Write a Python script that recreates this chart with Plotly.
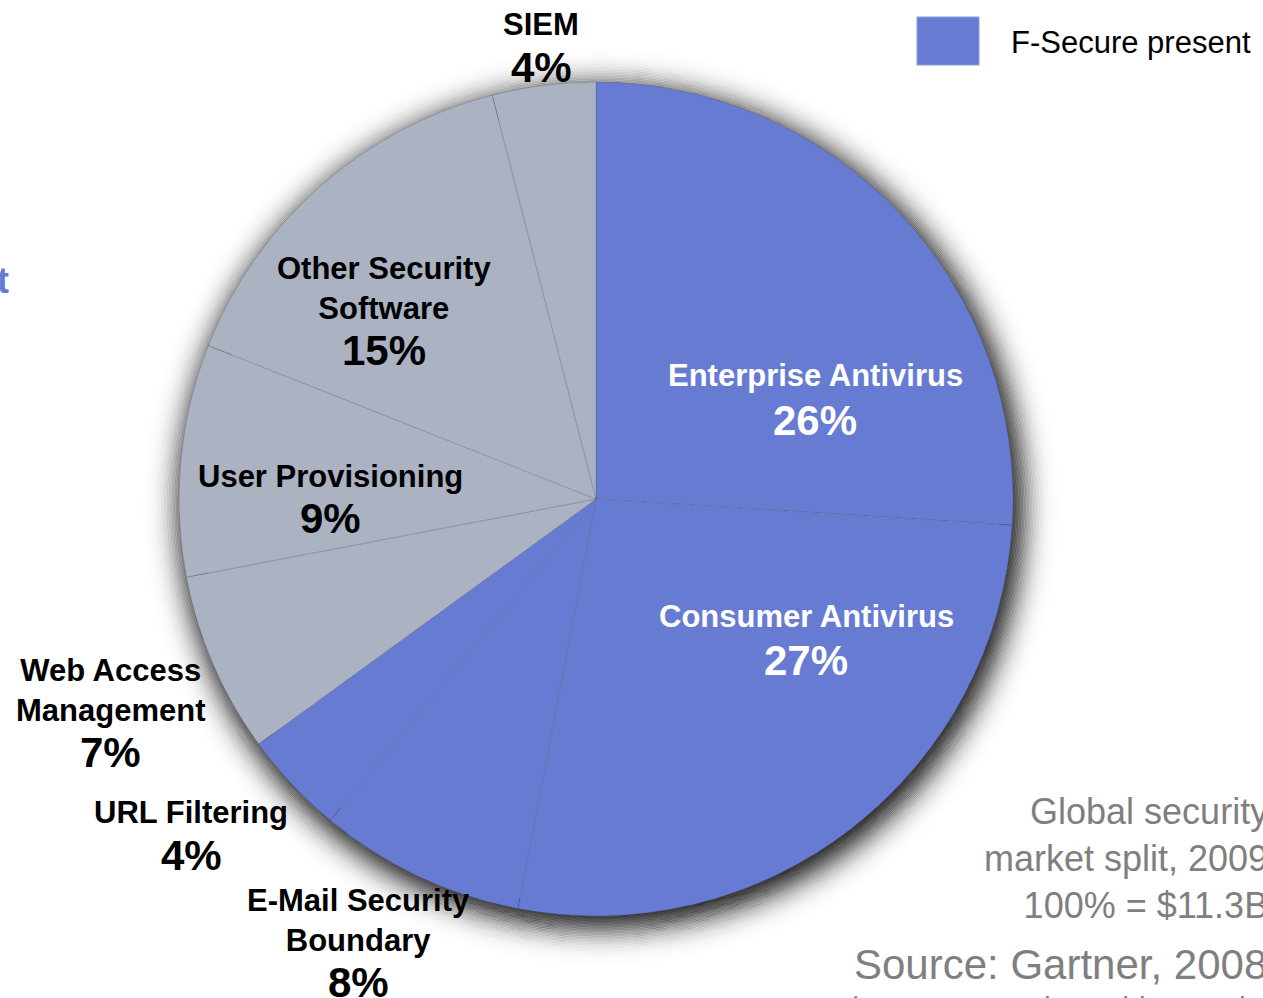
import math
import plotly.graph_objects as go

# Global security software market, share by segment (clockwise from 12 o'clock)
segments = [
    "Enterprise Antivirus",
    "Consumer Antivirus",
    "E-Mail Security<br>Boundary",
    "URL Filtering",
    "Web Access<br>Management",
    "User Provisioning",
    "Other Security<br>Software",
    "SIEM",
]
shares = [26, 27, 8, 4, 7, 9, 15, 4]
fsecure_present = [True, True, True, True, False, False, False, False]

legend_label = "F-Secure present"
caption_lines = ["Global security", "market split, 2009", "100% = $11.3B"]
source_text = "Source: Gartner, 2008"
footnote_text = "(SIEM = Security Incident and Event Management)"

W, H = 1263, 998
BLUE = "#677BD2"
GREY = "#ABB2C2"
FONT = "Liberation Sans, Arial, sans-serif"

# pie geometry in pixels
CX, CY, R = 596, 499, 417


def px(x):
    return x / W


def py(y):
    return 1 - y / H


colors = [BLUE if p else GREY for p in fsecure_present]

fig = go.Figure(
    go.Pie(
        values=shares,
        labels=[s.replace("<br>", " ") for s in segments],
        marker=dict(colors=colors, line=dict(color="rgba(70,75,100,0.4)", width=0.7)),
        sort=False,
        direction="clockwise",
        rotation=0,
        textinfo="none",
        hoverinfo="label+percent",
        showlegend=False,
        domain=dict(x=[px(CX - R), px(CX + R)], y=[py(CY + R), py(CY - R)]),
    )
)

# soft drop shadow: stacked translucent rings whose opacity follows a
# blurred-edge profile; the shadow disc is slightly larger than the pie
# and offset down and to the right
SH_OX, SH_OY = 5, 8
SH_SPREAD = 2
SH_MAX, SH_SIGMA = 1.0, 15.0


def shadow_profile(d):
    return SH_MAX * 0.5 * math.erfc(d / (SH_SIGMA * math.sqrt(2)))


def ring_path(cx, cy, r_out, r_in, n=360):
    pts_out = [(cx + r_out * math.cos(2 * math.pi * i / n), cy + r_out * math.sin(2 * math.pi * i / n)) for i in range(n)]
    pts_in = [(cx + r_in * math.cos(-2 * math.pi * i / n), cy + r_in * math.sin(-2 * math.pi * i / n)) for i in range(n)]
    p = "M " + " L ".join(f"{px(x):.6f},{py(y):.6f}" for x, y in pts_out) + " Z "
    p += "M " + " L ".join(f"{px(x):.6f},{py(y):.6f}" for x, y in pts_in) + " Z"
    return p


shapes = []
STEP = 1.5
d = -20.0
while d < 55:
    a = shadow_profile(d + STEP / 2)
    if a > 0.004:
        r_base = R + SH_SPREAD + d
        shapes.append(dict(
            type="path", xref="paper", yref="paper", layer="below",
            path=ring_path(CX + SH_OX, CY + SH_OY, r_base + STEP + 0.3, r_base),
            fillcolor=f"rgba(0,0,0,{a:.3f})", line=dict(width=0),
        ))
    d += STEP

# legend swatch
shapes.append(dict(
    type="rect", xref="paper", yref="paper",
    x0=px(917), x1=px(979), y0=py(65), y1=py(17),
    fillcolor=BLUE, line=dict(color="#8d9be0", width=1),
))

# label placement: (name centre x, name centre y, percent centre y, inside-slice)
label_pos = [
    (815, 376, 420, True),
    (806, 616, 660, True),
    (358, 920, 982, False),
    (191, 812, 855, False),
    (110, 690, 752, False),
    (330, 476, 518, False),
    (384, 288, 350, False),
    (541, 25, 68, False),
]

annotations = []
for name, val, present, (lx, ny, vy, inside) in zip(segments, shares, fsecure_present, label_pos):
    col = "white" if (present and inside) else "black"
    annotations.append(dict(
        x=px(lx), y=py(ny), xref="paper", yref="paper",
        text=f"<b>{name}</b>", showarrow=False,
        xanchor="center", yanchor="middle", align="center",
        font=dict(family=FONT, size=31, color=col),
    ))
    annotations.append(dict(
        x=px(lx), y=py(vy), xref="paper", yref="paper",
        text=f"<b>{val}%</b>", showarrow=False,
        xanchor="center", yanchor="middle", align="center",
        font=dict(family=FONT, size=42, color=col),
    ))

annotations.append(dict(
    x=px(1009), y=py(42), xref="paper", yref="paper",
    text=legend_label, showarrow=False, xanchor="left", yanchor="middle",
    font=dict(family=FONT, size=31, color="black"),
))

annotations.append(dict(
    x=px(11), y=py(280), xref="paper", yref="paper",
    text="<b>t</b>", showarrow=False, xanchor="right", yanchor="middle",
    font=dict(family=FONT, size=36, color=BLUE),
))

annotations.append(dict(
    x=px(1270), y=py(858), xref="paper", yref="paper",
    text="<br>".join(caption_lines), showarrow=False,
    xanchor="right", yanchor="middle", align="right",
    font=dict(family=FONT, size=36, color="#7f7f7f"),
))
annotations.append(dict(
    x=px(852), y=py(964), xref="paper", yref="paper",
    text=source_text, showarrow=False, xanchor="left", yanchor="middle",
    font=dict(family=FONT, size=42, color="#7f7f7f"),
))
annotations.append(dict(
    x=px(846), y=py(989), xref="paper", yref="paper",
    text=footnote_text, showarrow=False, xanchor="left", yanchor="top",
    font=dict(family=FONT, size=30, color="#7f7f7f"),
))

fig.update_layout(
    width=W, height=H,
    margin=dict(l=0, r=0, t=0, b=0),
    paper_bgcolor="white", plot_bgcolor="white",
    shapes=shapes, annotations=annotations,
)

fig.write_html("out.html", config={"displayModeBar": False})
